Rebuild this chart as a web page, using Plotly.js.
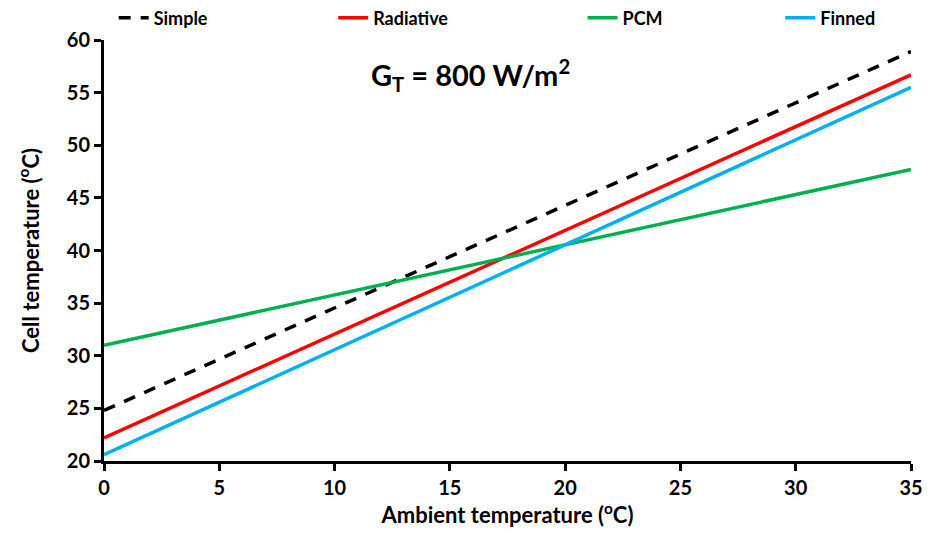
<!DOCTYPE html>
<html>
<head>
<meta charset="utf-8">
<script src="https://cdn.plot.ly/plotly-3.0.1.min.js"></script>
<style>html,body{margin:0;padding:0;background:#fff;}#chart{width:929px;height:533px;}</style>
</head>
<body>
<div id="chart"></div>
<script>
const ambient = [0, 35];
const simple = [24.8, 58.9];
const radiative = [22.2, 56.7];
const pcm = [31.0, 47.7];
const finned = [20.6, 55.5];
const xTicks = [0, 5, 10, 15, 20, 25, 30, 35];
const yTicks = [20, 25, 30, 35, 40, 45, 50, 55, 60];

const FONT = "Lato, 'Open Sans', sans-serif";
const traces = [
  {x: ambient, y: simple, name: 'Simple', mode: 'lines', line: {color: '#000000', width: 3.5, dash: '12px,10px'}, legend: 'legend'},
  {x: ambient, y: radiative, name: 'Radiative', mode: 'lines', line: {color: '#ff0000', width: 3.5}, legend: 'legend2'},
  {x: ambient, y: pcm, name: 'PCM', mode: 'lines', line: {color: '#00b050', width: 3.5}, legend: 'legend3'},
  {x: ambient, y: finned, name: 'Finned', mode: 'lines', line: {color: '#00b0f0', width: 3.5}, legend: 'legend4'}
];
function leg(x) {
  return {x: x, y: 1.052, xanchor: 'left', yanchor: 'middle', orientation: 'h', bgcolor: 'rgba(0,0,0,0)',
          font: {family: FONT, size: 18, color: '#000', weight: 'bold'}, itemwidth: 30};
}
const layout = {
  width: 929, height: 533,
  margin: {l: 104, r: 18, t: 40, b: 72, autoexpand: false},
  paper_bgcolor: '#fff', plot_bgcolor: '#fff',
  font: {family: FONT, color: '#000'},
  showlegend: true,
  legend: leg(0.012), legend2: leg(0.284), legend3: leg(0.593), legend4: leg(0.838),
  xaxis: {
    range: [0, 35], tickvals: xTicks, ticktext: xTicks.map(String),
    showgrid: false, zeroline: false, showline: true, linecolor: '#000', linewidth: 3,
    ticks: 'outside', ticklen: 7, tickwidth: 3, tickcolor: '#000',
    tickfont: {family: FONT, size: 20, color: '#000', weight: 'bold'},
    title: {text: 'Ambient temperature (<sup>o</sup>C)', font: {family: FONT, size: 22, color: '#000', weight: 'bold'}, standoff: 8}
  },
  yaxis: {
    range: [20, 60], tickvals: yTicks, ticktext: yTicks.map(String),
    showgrid: false, zeroline: false, showline: true, linecolor: '#000', linewidth: 3,
    ticks: 'outside', ticklen: 7, tickwidth: 3, tickcolor: '#000',
    tickfont: {family: FONT, size: 20, color: '#000', weight: 'bold'},
    title: {text: 'Cell temperature (<sup>o</sup>C)', font: {family: FONT, size: 22, color: '#000', weight: 'bold'}, standoff: 22}
  },
  annotations: [{
    text: '<b>G<sub>T</sub> = 800 W/m<sup>2</sup></b>', xref: 'paper', yref: 'paper',
    x: 0.454, y: 0.917, xanchor: 'center', yanchor: 'middle', showarrow: false,
    font: {family: FONT, size: 29, color: '#000'}
  }]
};
Plotly.newPlot('chart', traces, layout, {displayModeBar: false});
</script>
</body>
</html>
